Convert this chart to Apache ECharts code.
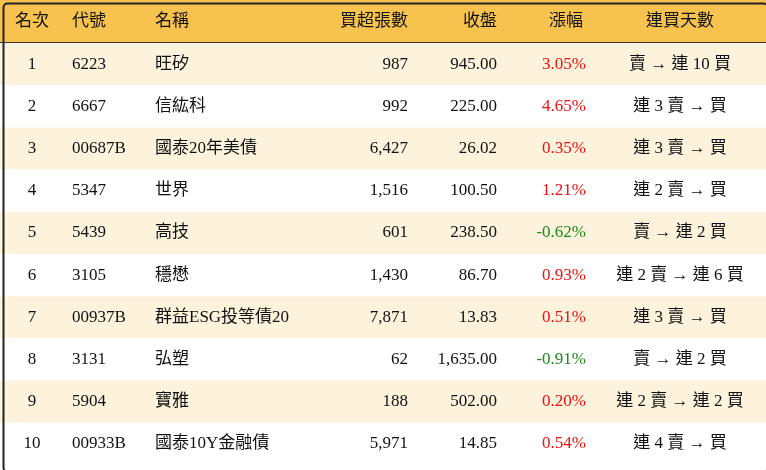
<!DOCTYPE html>
<html><head><meta charset="utf-8">
<script src="https://cdn.jsdelivr.net/npm/echarts@6/dist/echarts.min.js"></script>
<style>html,body{margin:0;padding:0;background:#fff}#main{width:766px;height:470px}</style>
</head><body><div id="main"></div>
<script>
// 表頭與資料
var headers = ['名次','代號','名稱','買超張數','收盤','漲幅','連買天數'];
var ranks = [1,2,3,4,5,6,7,8,9,10];
var codes = ['6223','6667','00687B','5347','5439','3105','00937B','3131','5904','00933B'];
var names = ['旺矽','信紘科','國泰20年美債','世界','高技','穩懋','群益ESG投等債20','弘塑','寶雅','國泰10Y金融債'];
var netBuy = ['987','992','6,427','1,516','601','1,430','7,871','62','188','5,971'];
var closes = ['945.00','225.00','26.02','100.50','238.50','86.70','13.83','1,635.00','502.00','14.85'];
var changes = [3.05,4.65,0.35,1.21,-0.62,0.93,0.51,-0.91,0.20,0.54];
var streaks = ['賣 → 連 10 買','連 3 賣 → 買','連 3 賣 → 買','連 2 賣 → 買','賣 → 連 2 買','連 2 賣 → 連 6 買','連 3 賣 → 買','賣 → 連 2 買','連 2 賣 → 連 2 買','連 4 賣 → 買'];

var font = '"Liberation Serif","Noto Sans CJK TC",serif';
// 欄位: x位置, 對齊
var cols = [[32,'center'],[72,'left'],[155,'left'],[408,'right'],[497,'right'],[586,'right'],[680,'center']];
var headCols = [[32,'center'],[72,'left'],[155,'left'],[408,'right'],[497,'right'],[566,'center'],[680,'center']];

var rows = [[-1]];
ranks.forEach(function(r,i){ rows.push([i]); });

var chart = echarts.init(document.getElementById('main'));
chart.setOption({
  animation:false,
  grid:{left:0,right:0,top:0,bottom:0},
  xAxis:{type:'value',min:0,max:766,show:false},
  yAxis:{type:'value',min:0,max:470,inverse:true,show:false},
  series:[{
    type:'custom',
    data:rows,
    renderItem:function(params,api){
      var i = api.value(0);
      var top = i<0 ? 0 : 43 + i*42.2;
      var h = i<0 ? 43 : 42.2;
      var p0 = api.coord([0,top]), p1 = api.coord([766,top+h]);
      var cy = (p0[1]+p1[1])/2;
      var bg = i<0 ? '#f8c24e' : (i%2===0 ? '#fdf3dc' : '#ffffff');
      var children = [{type:'rect',shape:{x:p0[0],y:p0[1],width:p1[0]-p0[0],height:p1[1]-p0[1]},style:{fill:bg}}];
      var texts, cset;
      if(i<0){ texts = headers; cset = headCols; }
      else {
        var c = changes[i];
        texts = [String(ranks[i]),codes[i],names[i],netBuy[i],closes[i],c.toFixed(2)+'%',streaks[i]];
        cset = cols;
      }
      texts.forEach(function(t,k){
        var color = '#111';
        if(i>=0 && k===5) color = changes[i]<0 ? '#1a8a1a' : '#ee1111';
        children.push({type:'text',style:{x:api.coord([cset[k][0],0])[0],y:cy,text:t,fill:color,
          font:'17px '+font,align:cset[k][1],verticalAlign:'middle'}});
      });
      if(i<0) children.push({type:'line',shape:{x1:0,y1:p1[1],x2:766,y2:p1[1]},style:{stroke:'#333',lineWidth:2}});
      return {type:'group',children:children};
    }
  }],
  graphic:[{type:'rect',left:1,top:1,shape:{width:764,height:468,r:4},style:{fill:null,stroke:'#222',lineWidth:2},z:100}]
});
</script></body></html>
